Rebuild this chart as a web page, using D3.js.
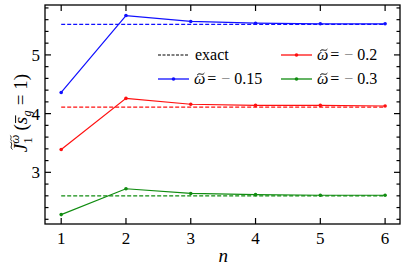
<!DOCTYPE html>
<html lang="en">
<head>
<meta charset="UTF-8">
<title>J1 convergence</title>
<style>
    body { margin: 0; background: #fff; }
    svg { display: block; }
</style>
</head>
<body>
<svg width="407" height="270" font-family="Liberation Serif, Times New Roman, serif"></svg>
<script src="https://d3js.org/d3.v7.min.js"></script>
<script>
    // values
    var nValues = [1, 2, 3, 4, 5, 6];
    var blueValues = [4.36, 5.67, 5.57, 5.54, 5.53, 5.53];
    var redValues = [3.39, 4.26, 4.16, 4.14, 4.14, 4.13];
    var greenValues = [2.28, 2.72, 2.64, 2.62, 2.61, 2.61];
    var exactValues = [5.52, 4.11, 2.60];
    var seriesLabels = ["0.15", "0.2", "0.3"];
    var xTicks = [1, 2, 3, 4, 5, 6];
    var yTicks = [3, 4, 5];

    var FONT = "Liberation Serif";
    var svg = d3.select("svg");
    var margin = { left: 45, top: 5, right: 7, bottom: 46 };
    var width = 407 - margin.left - margin.right,
        height = 270 - margin.top - margin.bottom;

    var x = d3.scaleLinear().domain([0.75, 6.23]).range([0, width]);
    var y = d3.scaleLinear().domain([2.12, 5.85]).range([height, 0]);

    var g = svg.append("g")
        .attr("transform", "translate(" + margin.left + "," + margin.top + ")");

    var colors = ["#1010ff", "#ff1010", "#108c10"];
    var series = [blueValues, redValues, greenValues];

    // lays out a little formula piece by piece, measuring each piece
    // accents (tilde / bar) are drawn as small paths
    function mathText(parent, x0, y0, pieces, anchor) {
        var grp = parent.append("g");
        var cx = 0, lastW = 0;
        pieces.forEach(function (p) {
            var size = p.size || 16;
            if (p.back) cx -= lastW;
            var by = p.dy || 0;
            var t = grp.append("text")
                .attr("x", cx).attr("y", by)
                .attr("font-family", FONT)
                .attr("font-size", size)
                .attr("font-style", p.it ? "italic" : null)
                .attr("fill", p.fill || "#000")
                .text(p.t);
            var w = t.node().getComputedTextLength();
            if (p.accent) {
                var aw = size * (p.aw || 0.42);
                var ax = cx + w / 2 + (p.it ? size * 0.07 : 0) - aw / 2 + (p.ax || 0);
                var ay = by - size * p.up;
                var d = p.accent === "tilde"
                    ? "M" + ax + "," + (ay + 1) + " C" + (ax + aw * 0.35) + "," + (ay - 2.2) + " " +
                      (ax + aw * 0.65) + "," + (ay + 2.2) + " " + (ax + aw) + "," + (ay - 1)
                    : "M" + ax + "," + ay + " L" + (ax + aw) + "," + ay;
                grp.append("path").attr("d", d).attr("fill", "none")
                    .attr("stroke", "#000").attr("stroke-width", size > 13 ? 1 : 0.8);
            }
            cx += w + (p.gap || 0);
            lastW = w;
        });
        var shift = anchor === "middle" ? -cx / 2 : 0;
        grp.attr("transform", "translate(" + (x0 + shift) + "," + y0 + ")");
        return grp;
    }

    // dashed exact lines
    exactValues.forEach(function (v, i) {
        g.append("line")
            .attr("x1", x(1)).attr("x2", x(6))
            .attr("y1", y(v)).attr("y2", y(v))
            .attr("stroke", colors[i])
            .attr("stroke-width", 1.3)
            .attr("stroke-dasharray", "4,2");
    });

    var line = d3.line()
        .x(function (d, i) { return x(nValues[i]); })
        .y(function (d) { return y(d); });

    series.forEach(function (vals, i) {
        g.append("path")
            .datum(vals)
            .attr("d", line)
            .attr("fill", "none")
            .attr("stroke", colors[i])
            .attr("stroke-width", 1.2);
        g.selectAll(".pt" + i)
            .data(vals)
            .enter().append("circle")
            .attr("cx", function (d, j) { return x(nValues[j]); })
            .attr("cy", function (d) { return y(d); })
            .attr("r", 1.8)
            .attr("fill", colors[i]);
    });

    // frame and ticks (inward, all four sides)
    g.append("rect")
        .attr("width", width).attr("height", height)
        .attr("fill", "none").attr("stroke", "#000").attr("stroke-width", 1.3);

    var yMinor = d3.range(2.2, 5.81, 0.2).map(function (v) { return +v.toFixed(1); });

    xTicks.forEach(function (t) {
        g.append("line").attr("x1", x(t)).attr("x2", x(t))
            .attr("y1", height).attr("y2", height - 6).attr("stroke", "#000").attr("stroke-width", 1.2);
        g.append("line").attr("x1", x(t)).attr("x2", x(t))
            .attr("y1", 0).attr("y2", 6).attr("stroke", "#000").attr("stroke-width", 1.2);
        g.append("text").attr("x", x(t)).attr("y", height + 20)
            .attr("text-anchor", "middle").attr("font-family", FONT)
            .attr("font-size", 17).text(t);
    });

    yMinor.forEach(function (t) {
        var major = yTicks.indexOf(t) >= 0;
        var len = major ? 6 : 3.5;
        g.append("line").attr("x1", 0).attr("x2", len)
            .attr("y1", y(t)).attr("y2", y(t)).attr("stroke", "#000").attr("stroke-width", 1.2);
        g.append("line").attr("x1", width).attr("x2", width - len)
            .attr("y1", y(t)).attr("y2", y(t)).attr("stroke", "#000").attr("stroke-width", 1.2);
    });

    yTicks.forEach(function (t) {
        g.append("text").attr("x", -5).attr("y", y(t) + 6)
            .attr("text-anchor", "end").attr("font-family", FONT)
            .attr("font-size", 17).text(t);
    });

    // axis labels
    svg.append("text")
        .attr("x", margin.left + x(3.5)).attr("y", 262)
        .attr("text-anchor", "middle").attr("font-family", FONT)
        .attr("font-size", 19).attr("font-style", "italic").text("n");

    var ylab = svg.append("g").attr("transform", "translate(27,113) rotate(-90)");
    mathText(ylab, 0, 0, [
        { t: "J", it: true, size: 19, accent: "tilde", up: 0.82, aw: 0.4, ax: 1 },
        { t: "1", size: 13, dy: 5 },
        { t: "\u03c9", it: true, size: 13, dy: -8, back: true, accent: "tilde", up: 0.62, aw: 0.45, gap: 4 },
        { t: "(", size: 19 },
        { t: "s", it: true, size: 19, accent: "bar", up: 0.6, aw: 0.4 },
        { t: "g", it: true, size: 13, dy: 4, gap: 5 },
        { t: "=", size: 19, gap: 5 },
        { t: "1)", size: 19 }
    ], "middle");

    // legend
    var legendRows = [
        { x: 158, y: 55, color: "#000", dash: true, label: null },
        { x: 281, y: 55, color: colors[1], dash: false, label: seriesLabels[1] },
        { x: 158, y: 79, color: colors[0], dash: false, label: seriesLabels[0] },
        { x: 281, y: 79, color: colors[2], dash: false, label: seriesLabels[2] }
    ];
    legendRows.forEach(function (d) {
        svg.append("line")
            .attr("x1", d.x).attr("x2", d.x + 31)
            .attr("y1", d.y).attr("y2", d.y)
            .attr("stroke", d.color).attr("stroke-width", d.dash ? 1.2 : 1.3)
            .attr("stroke-dasharray", d.dash ? "3,1.5" : null);
        if (!d.dash) {
            svg.append("circle").attr("cx", d.x + 15.5).attr("cy", d.y)
                .attr("r", 1.8).attr("fill", d.color);
        }
        if (d.label === null) {
            svg.append("text").attr("x", d.x + 37).attr("y", d.y + 5)
                .attr("font-family", FONT).attr("font-size", 16).text("exact");
        } else {
            mathText(svg, d.x + 36, d.y + 5, [
                { t: "\u03c9", it: true, size: 16, accent: "tilde", up: 0.62, aw: 0.45, gap: 2 },
                { t: "=", size: 16, gap: 5 },
                { t: "\u2212", size: 16, fill: "#888", gap: 4 },
                { t: d.label, size: 16 }
            ]);
        }
    });
</script>
</body>
</html>
